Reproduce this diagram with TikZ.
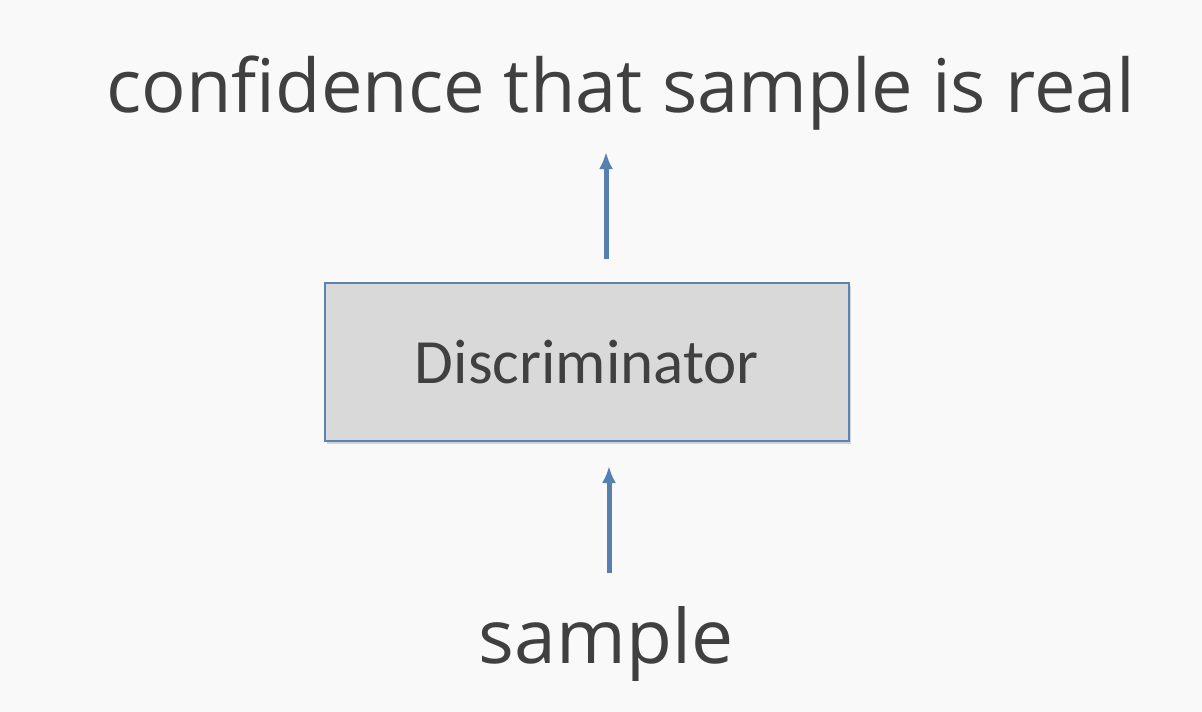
\documentclass[tikz,border=0pt]{standalone}
\usepackage{fontspec}
\setmainfont{Open Sans}
\newfontfamily\boxfont{Carlito}
\usetikzlibrary{arrows.meta,shadows}
\definecolor{bgc}{HTML}{F9F9F9}
\definecolor{txt}{HTML}{404040}
\definecolor{boxfill}{HTML}{D9D9D9}
\definecolor{boxline}{HTML}{5B84B4}
\definecolor{arrc}{HTML}{5580B0}
\tikzset{
  label text/.style={text=txt, inner sep=0pt, font=\fontsize{74}{80}\selectfont},
  disc box/.style={draw=boxline, line width=1.3pt, fill=boxfill, minimum width=524pt, minimum height=158pt, inner sep=0pt,
    text=txt, font=\boxfont\fontsize{63}{70}\selectfont,
    drop shadow={shadow xshift=2pt, shadow yshift=-3pt, fill=black, opacity=0.15}},
  flow arrow/.style={draw=arrc, line width=5pt, -{Latex[length=17pt,width=14pt]}}
}
\begin{document}
\begin{tikzpicture}[x=1pt,y=-1pt]
\useasboundingbox (0,0) rectangle (1202,712);
\fill[bgc] (0,0) rectangle (1202,712);
\node[label text, anchor=base] (conf) at (621,112) {confidence that sample is real};
\node[disc box] (disc) at (587,362) {Discriminator};
\node[label text, anchor=base, font=\fontsize{75}{80}\selectfont] (samp) at (606,663) {sample};
\coordinate (inStart) at (609,573);
\coordinate (inEnd) at (609,466);
\coordinate (outStart) at (606,259);
\coordinate (outEnd) at (606,152);
\draw[flow arrow] (inStart) -- (inEnd);
\draw[flow arrow] (outStart) -- (outEnd);
\end{tikzpicture}
\end{document}
